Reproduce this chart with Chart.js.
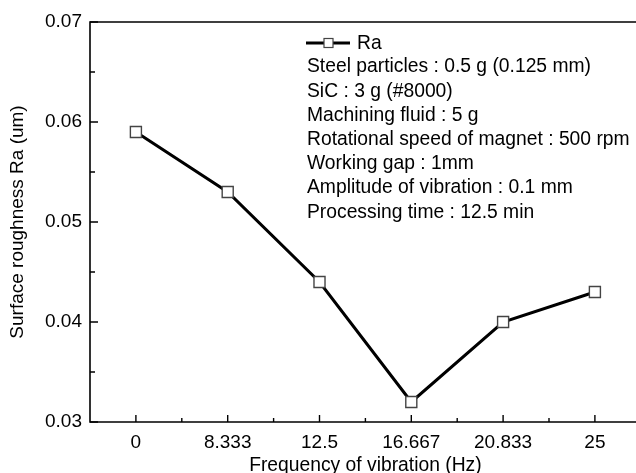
<!DOCTYPE html>
<html>
<head>
<meta charset="utf-8">
<script src="https://cdn.jsdelivr.net/npm/chart.js@4/dist/chart.umd.min.js"></script>
<style>
  html, body { margin: 0; padding: 0; background: #fff; overflow: hidden; }
</style>
</head>
<body>
<canvas id="raChart" width="650" height="473"></canvas>
<script>
// frequency of vibration (Hz) -> surface roughness Ra (um)
const frequencies = ['0', '8.333', '12.5', '16.667', '20.833', '25'];
const roughness = [0.059, 0.053, 0.044, 0.032, 0.040, 0.043];
const yMin = 0.03, yMax = 0.07, yStep = 0.01;

const conditions = [
    'Steel particles : 0.5 g (0.125 mm)',
    'SiC : 3 g (#8000)',
    'Machining fluid : 5 g',
    'Rotational speed of magnet : 500 rpm',
    'Working gap : 1mm',
    'Amplitude of vibration : 0.1 mm',
    'Processing time : 12.5 min'
];

const FONT = 'Liberation Sans, Arial, sans-serif';

// frame + inward ticks (major and minor), drawn off the chart scales
const frame = {
    id: 'frame',
    afterDatasetsDraw(chart) {
        const { ctx, chartArea: a, scales: { x, y } } = chart;
        ctx.save();
        ctx.strokeStyle = '#000';
        ctx.lineWidth = 1.6;
        ctx.beginPath();
        ctx.moveTo(chart.width, a.top);
        ctx.lineTo(a.left, a.top);
        ctx.lineTo(a.left, a.bottom);
        ctx.lineTo(chart.width, a.bottom);
        ctx.stroke();

        ctx.lineWidth = 1.4;
        ctx.beginPath();
        for (let i = 0; i < frequencies.length; i++) {
            const px = x.getPixelForValue(i);
            ctx.moveTo(px, a.bottom);
            ctx.lineTo(px, a.bottom - 7);
            const mx = x.getPixelForValue(i + 0.5);
            if (mx < chart.width) {
                ctx.moveTo(mx, a.bottom);
                ctx.lineTo(mx, a.bottom - 4);
            }
        }
        for (let v = yMin; v <= yMax + 1e-9; v += yStep / 2) {
            const py = y.getPixelForValue(v);
            const major = Math.abs(Math.round(v / yStep) * yStep - v) < 1e-9;
            ctx.moveTo(a.left, py);
            ctx.lineTo(a.left + (major ? 8 : 5), py);
        }
        ctx.stroke();
        ctx.restore();
    }
};

// legend sample and the processing conditions
const notes = {
    id: 'notes',
    afterDraw(chart) {
        const { ctx } = chart;
        const ds = chart.data.datasets[0];
        const x0 = 306, y0 = 43, lineGap = 24.2;
        ctx.save();
        ctx.strokeStyle = '#000';
        ctx.lineWidth = 3;
        ctx.beginPath();
        ctx.moveTo(x0, y0);
        ctx.lineTo(x0 + 44, y0);
        ctx.stroke();
        ctx.fillStyle = '#fff';
        ctx.fillRect(x0 + 18, y0 - 4.5, 9, 9);
        ctx.strokeStyle = '#444';
        ctx.lineWidth = 1.2;
        ctx.strokeRect(x0 + 18, y0 - 4.5, 9, 9);

        ctx.fillStyle = '#000';
        ctx.font = '19.3px ' + FONT;
        ctx.textBaseline = 'middle';
        ctx.fillText(ds.label, x0 + 51, y0 + 1);
        conditions.forEach((t, i) => {
            ctx.fillText(t, x0 + 1, y0 + 24 + i * lineGap);
        });
        ctx.restore();
    }
};

new Chart(document.getElementById('raChart'), {
    type: 'line',
    data: {
        labels: frequencies,
        datasets: [{
            label: 'Ra',
            data: roughness,
            borderColor: '#000',
            borderWidth: 3,
            pointStyle: 'rect',
            pointRadius: 7.8,
            pointBackgroundColor: '#fff',
            pointBorderColor: '#444',
            pointBorderWidth: 1.4,
            tension: 0
        }]
    },
    options: {
        responsive: false,
        animation: false,
        events: [],
        layout: { padding: { top: 22, right: 9, bottom: -4, left: 6 } },
        plugins: { legend: { display: false }, tooltip: { enabled: false } },
        scales: {
            x: {
                type: 'category',
                offset: true,
                grid: { display: false, drawTicks: false },
                border: { display: false },
                ticks: { color: '#000', padding: 9, font: { family: FONT, size: 19 } },
                title: {
                    display: true,
                    text: 'Frequency of vibration (Hz)',
                    color: '#000',
                    font: { family: FONT, size: 19.3 },
                    padding: 0
                },
                afterFit(scale) { scale.height = 55; }
            },
            y: {
                min: yMin,
                max: yMax,
                grid: { display: false, drawTicks: false },
                border: { display: false },
                ticks: {
                    stepSize: yStep,
                    color: '#000',
                    padding: 8,
                    font: { family: FONT, size: 19 },
                    callback: v => v.toFixed(2)
                },
                title: {
                    display: true,
                    text: 'Surface roughness Ra (um)',
                    color: '#000',
                    font: { family: FONT, size: 19 },
                    padding: 0
                },
                afterFit(scale) { scale.width = 84; }
            }
        }
    },
    plugins: [frame, notes]
});
</script>
</body>
</html>
